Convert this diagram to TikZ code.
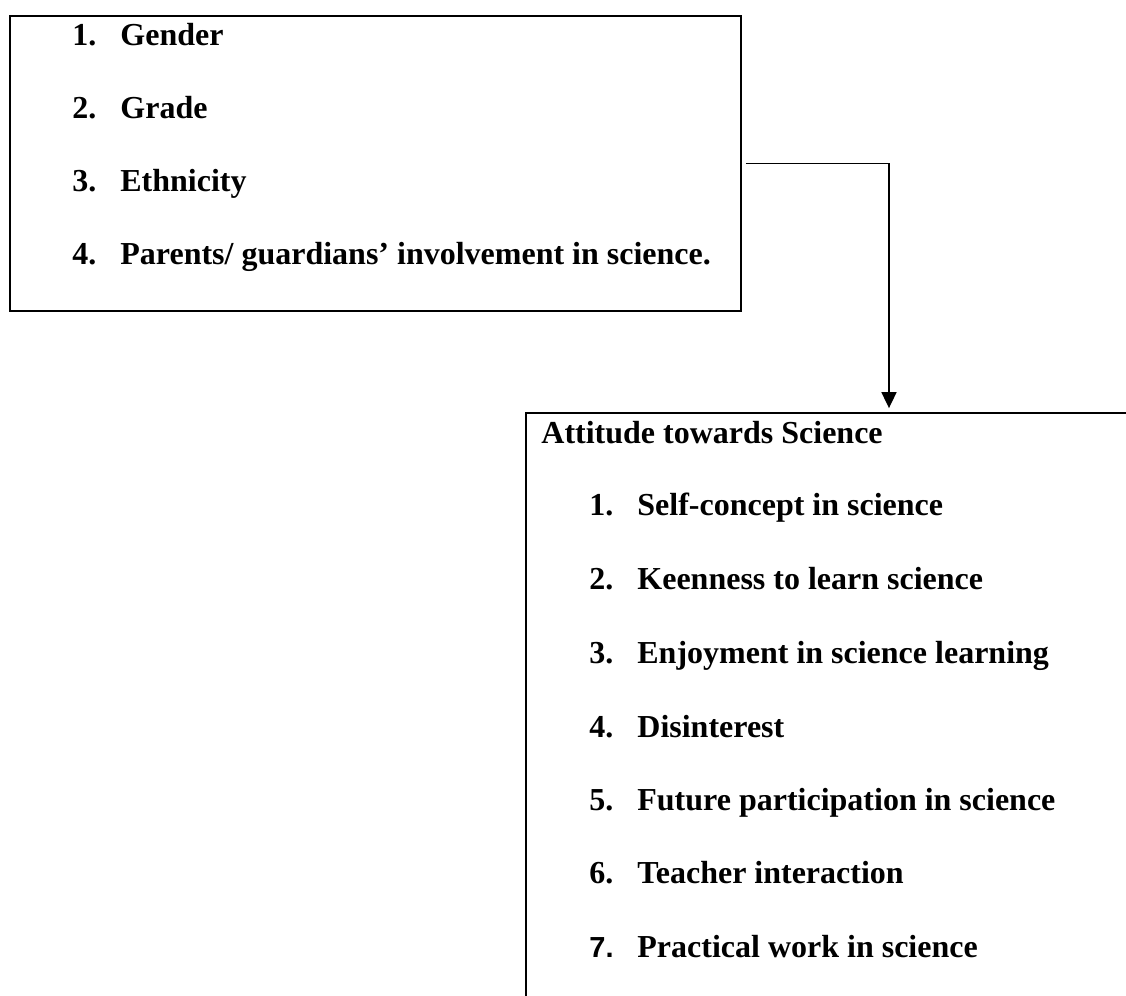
\documentclass[tikz,border=0pt]{standalone}
\usepackage{fontspec}
\setmainfont{Liberation Serif}
\newfontfamily\sansnum{Liberation Sans}
\usetikzlibrary{arrows.meta,positioning}

\newcommand{\itemlabel}[1]{\makebox[24pt][l]{#1}}

\begin{document}
\begin{tikzpicture}[
    x=0.5pt, y=-0.5pt,
    box/.style={rectangle, draw=black, line width=0.9pt, inner sep=0pt},
    entry/.style={anchor=base west, inner sep=0pt, font=\fontsize{16}{19}\selectfont\bfseries},
    arrow/.style={-{Triangle[length=8pt,width=7.5pt]}, line width=0.9pt, shorten <=2pt, shorten >=2pt}
]
    \useasboundingbox (0,0) rectangle (1126,996);
    \clip (0,0) rectangle (1126,996);

    % Background factors
    \node[box, minimum width=365.5pt, minimum height=147.5pt] (factors) at (375.5,163.5) {};
    \node[entry] (gender) at (72,45.5) {\itemlabel{1.}Gender};
    \node[entry] (grade) at (72,118.5) {\itemlabel{2.}Grade};
    \node[entry] (ethnicity) at (72,191.5) {\itemlabel{3.}Ethnicity};
    \node[entry] (parents) at (72,264.5) {\itemlabel{4.}Parents/ guardians’ involvement in science.};

    % Attitude box (runs off the page at right and bottom)
    \node[box, minimum width=363pt, minimum height=303.5pt] (attitude) at (889,716.5) {};
    \node[entry] (title) at (541,443) {Attitude towards Science};
    \node[entry] (selfconcept) at (589,515) {\itemlabel{1.}Self-concept in science};
    \node[entry] (keenness) at (589,589) {\itemlabel{2.}Keenness to learn science};
    \node[entry] (enjoyment) at (589,663) {\itemlabel{3.}Enjoyment in science learning};
    \node[entry] (disinterest) at (589,737) {\itemlabel{4.}Disinterest};
    \node[entry] (future) at (589,810) {\itemlabel{5.}Future participation in science};
    \node[entry] (teacher) at (589,883) {\itemlabel{6.}Teacher interaction};
    \node[entry] (practical) at (589,957) {\itemlabel{{\sansnum\fontsize{14.5}{17}\selectfont 7.}}Practical work in science};

    % Connector
    \draw[arrow] (factors.east) -| (attitude.north);
\end{tikzpicture}
\end{document}
